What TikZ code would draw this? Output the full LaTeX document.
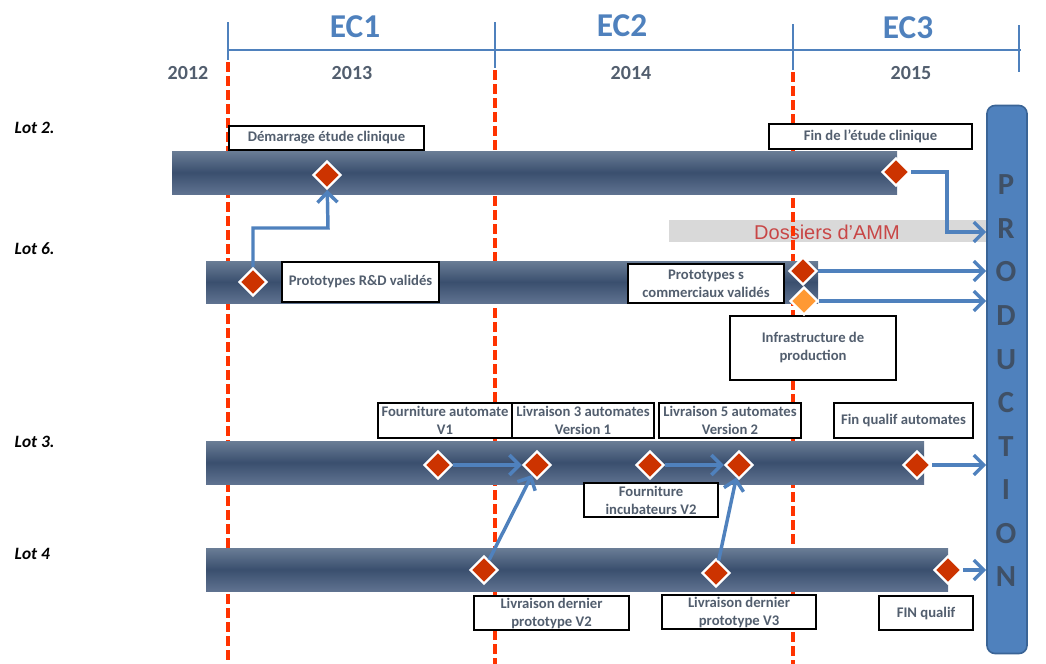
\documentclass[tikz,border=0pt]{standalone}
\usepackage{fontspec}
\setmainfont{Carlito}
\newfontfamily\arialfont{Liberation Sans}
\usetikzlibrary{shapes.geometric,arrows.meta}

\definecolor{ecblue}{RGB}{79,129,189}
\definecolor{prodedge}{RGB}{58,100,150}
\definecolor{prodtext}{RGB}{63,80,102}
\definecolor{slate}{RGB}{82,94,110}
\definecolor{dashred}{RGB}{255,51,0}
\definecolor{bartop}{RGB}{106,125,150}
\definecolor{barmid}{RGB}{58,79,110}
\definecolor{barbot}{RGB}{95,114,144}
\definecolor{msred}{RGB}{204,51,0}
\definecolor{msorange}{RGB}{255,153,51}
\definecolor{ammgray}{RGB}{217,217,217}
\definecolor{ammred}{RGB}{200,70,70}

\tikzset{
  milestone/.style={diamond, draw=white, line width=1.8pt, fill=msred, inner sep=0pt, minimum width=21pt, minimum height=21pt},
  flow/.style={draw=ecblue, line width=2.6pt, -{Straight Barb[length=7.5pt,width=15pt]}},
  labelbox/.style={draw=black, line width=0.9pt, fill=white, text=slate, font=\fontsize{11}{13.5}\selectfont\bfseries, align=center, inner xsep=0pt, inner ysep=0pt},
  lbox/.style 2 args={labelbox, minimum width=#1*0.75pt, minimum height=#2*0.75pt},
  lotlabel/.style={anchor=west, font=\fontsize{13}{15}\selectfont\bfseries\itshape},
  yearlabel/.style={text=slate, font=\fontsize{15}{18}\selectfont\bfseries},
  eclabel/.style={text=ecblue, font=\fontsize{25}{30}\selectfont\bfseries},
  prodletter/.style={text=prodtext, font=\fontsize{23}{26}\selectfont\bfseries},
  redline/.style={draw=dashred, line width=2.3pt, dash pattern=on 7.5pt off 3pt},
  axisline/.style={draw=ecblue, line width=2pt},
  lotbar/.style={top color=bartop, bottom color=barbot, middle color=barmid}
}

\begin{document}
\begin{tikzpicture}[x=0.75pt, y=-0.75pt]
		%%%%% START %%%%%
		\useasboundingbox (0, 0) rectangle (1046, 664);
		
		% time axis
		\draw[axisline] (228, 50) -- (1021, 50);
		\draw[axisline] (228, 22) -- (228, 60);
		\draw[axisline] (495, 22) -- (495, 68);
		\draw[axisline] (793, 24) -- (793, 70);
		\draw[axisline] (1019, 25) -- (1019, 72);
		
		\node[eclabel] (ec1) at (355, 27) {EC1};
		\node[eclabel] (ec2) at (622, 26) {EC2};
		\node[eclabel] (ec3) at (908, 28) {EC3};
		
		\node[yearlabel] (y2012) at (188, 73) {2012};
		\node[yearlabel] (y2013) at (352, 73) {2013};
		\node[yearlabel] (y2014) at (631, 73) {2014};
		\node[yearlabel] (y2015) at (911, 73) {2015};
		
		% AMM band
		\fill[ammgray] (669, 220) rectangle (987, 242);
		\node[text=ammred, font=\arialfont\fontsize{15}{18}\selectfont] (amm) at (827, 232) {Dossiers d’AMM};
		
		% year limits
		\draw[redline] (228, 62) -- (228, 664);
		\draw[redline] (495, 70) -- (495, 664);
		\draw[redline] (793, 72) -- (793, 664);
		
		% lots
		\node[lotlabel] (lot2) at (10, 128) {Lot 2.};
		\node[lotlabel] (lot6) at (10, 249) {Lot 6.};
		\node[lotlabel] (lot3) at (10, 442) {Lot 3.};
		\node[lotlabel] (lot4) at (10, 554) {Lot 4};
		
		\shade[lotbar] (172, 151) rectangle (897, 194);
		\shade[lotbar] (206, 261) rectangle (818, 303);
		\shade[lotbar] (206, 441) rectangle (924, 484);
		\shade[lotbar] (206, 548) rectangle (948, 591);
		
		% production
		\node[draw=prodedge, line width=1.2pt, fill=ecblue, rounded corners=6pt, minimum width=30pt, minimum height=411pt] (prod) at (1007, 379.5) {};
		\node[prodletter] (pP) at (1006, 185) {P};
		\node[prodletter] (pR) at (1006, 229) {R};
		\node[prodletter] (pO) at (1006, 272) {O};
		\node[prodletter] (pD) at (1006, 316) {D};
		\node[prodletter] (pU) at (1006, 360) {U};
		\node[prodletter] (pC) at (1006, 403) {C};
		\node[prodletter] (pT) at (1006, 447) {T};
		\node[prodletter] (pI) at (1006, 490) {I};
		\node[prodletter] (pO2) at (1006, 534) {O};
		\node[prodletter] (pN) at (1006, 577) {N};
		
		% labels
		\node[lbox={195}{24}] (lDem) at (326.5, 138) {D\'emarrage \'etude clinique};
		\node[lbox={203}{25}] (lFin) at (870.5, 136.5) {Fin de l'\'etude clinique};
		\node[lbox={157}{40}] (lRD) at (360.5, 282) {Prototypes R\&D valid\'es};
		\node[lbox={156}{39}] (lCom) at (706, 283.5) {Prototypes s\\commerciaux valid\'es};
		\node[lbox={166}{64}] (lInfra) at (813, 348) {Infrastructure de\\production};
		\node[lbox={134}{35}] (lFourV1) at (445, 420.5) {Fourniture automate\\V1};
		\node[lbox={142}{35}] (lLiv3) at (583, 420.5) {Livraison 3 automates\\Version 1};
		\node[lbox={142}{35}] (lLiv5) at (730, 420.5) {Livraison 5 automates\\Version 2};
		\node[lbox={139}{35}] (lQualif) at (903.5, 420.5) {Fin qualif automates};
		\node[lbox={134}{34}] (lIncub) at (651, 500) {Fourniture\\incubateurs V2};
		\node[lbox={155}{34}] (lProtoV2) at (551.5, 613) {Livraison dernier\\prototype V2};
		\node[lbox={154}{34}] (lProtoV3) at (739, 612) {Livraison dernier\\prototype V3};
		\node[lbox={94}{34}] (lFinQ) at (926, 613) {FIN qualif};
		
		% milestones
		\node[milestone] (mDem) at (327, 175) {};
		\node[milestone] (mFin) at (896, 172) {};
		\node[milestone] (mRD) at (253, 282) {};
		\node[milestone] (mCom) at (803, 271) {};
		\node[milestone, fill=msorange] (mInfra) at (804, 301) {};
		\node[milestone] (mFourV1) at (438, 465) {};
		\node[milestone] (mLiv3) at (537, 465) {};
		\node[milestone] (mIncub) at (650, 465) {};
		\node[milestone] (mLiv5) at (739, 465) {};
		\node[milestone] (mQualif) at (917, 465) {};
		\node[milestone] (mProtoV2) at (484, 570) {};
		\node[milestone] (mProtoV3) at (716, 573) {};
		\node[milestone] (mFinQ) at (948, 570) {};
		
		% links
		\coordinate (k1) at (328, 228);
		\coordinate (k2) at (947, 232);
		\draw[flow] (mRD) |- (k1) -- (mDem);
		\draw[flow] (mFin) -| (k2) -- (k2 -| prod.west);
		\draw[flow] (mCom) -- (mCom -| prod.west);
		\draw[flow] (mInfra) -- (mInfra -| prod.west);
		\draw[flow] (mFourV1) -- (mLiv3);
		\draw[flow] (mIncub) -- (mLiv5);
		\draw[flow] (mQualif) -- (mQualif -| prod.west);
		\draw[flow] (mProtoV2) -- (mLiv3);
		\draw[flow] (mProtoV3) -- (mLiv5);
		\draw[flow] (mFinQ) -- (mFinQ -| prod.west);
		
		%%%%% END %%%%%
	\end{tikzpicture}
\end{document}
